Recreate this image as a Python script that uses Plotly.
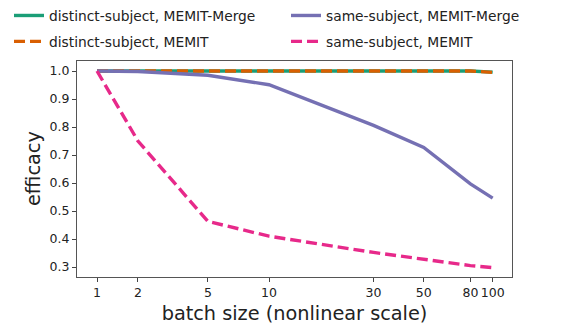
import plotly.graph_objects as go

batch = [1, 2, 5, 10, 30, 50, 80, 100]
tick_labels = ["1", "2", "5", "10", "30", "50", "80", "100"]

distinct_merge = [1.0, 1.0, 0.999, 0.999, 0.999, 1.0, 1.0, 0.996]
distinct_memit = [1.0, 1.0, 0.999, 0.999, 0.999, 1.0, 1.0, 0.995]
same_merge = [1.0, 0.998, 0.985, 0.951, 0.806, 0.727, 0.597, 0.546]
same_memit = [1.0, 0.75, 0.463, 0.41, 0.352, 0.329, 0.305, 0.298]

yticks = [0.3, 0.4, 0.5, 0.6, 0.7, 0.8, 0.9, 1.0]

# nonlinear scale: log(batch + 1)
xpos = [b + 1 for b in batch]

fig = go.Figure()
series = [
    ("distinct-subject, MEMIT-Merge", distinct_merge, "#1b9e77", "solid", "legend"),
    ("distinct-subject, MEMIT", distinct_memit, "#d95f02", "dash", "legend"),
    ("same-subject, MEMIT-Merge", same_merge, "#7570b3", "solid", "legend2"),
    ("same-subject, MEMIT", same_memit, "#e7298a", "dash", "legend2"),
]
for name, vals, color, dash, lg in series:
    fig.add_trace(go.Scatter(
        x=xpos, y=vals, mode="lines", name=name, legend=lg, legendgroup=name,
        line=dict(color=color, width=3.4, dash="11px,5px" if dash == "dash" else "solid"),
    ))

legend_common = dict(
    orientation="v", xref="container", yref="container",
    y=1.0, xanchor="left", yanchor="top",
    font=dict(size=13.8, family="DejaVu Sans", color="#222"),
    tracegroupgap=5, itemwidth=30,
    bgcolor="rgba(0,0,0,0)",
)

fig.update_layout(
    width=581, height=325,
    margin=dict(l=77, r=69, t=61, b=48, autoexpand=False),
    plot_bgcolor="white", paper_bgcolor="white",
    font=dict(family="DejaVu Sans", color="#222"),
    legend=dict(x=9 / 581, **legend_common),
    legend2=dict(x=286 / 581, **legend_common),
    showlegend=True,
    annotations=[dict(
        text="efficacy", textangle=-90, showarrow=False,
        xref="paper", yref="paper", x=-0.101, y=0.5,
        xanchor="center", yanchor="middle",
        font=dict(size=19.3, family="DejaVu Sans", color="#222"),
    )],
)
fig.update_xaxes(
    type="log",
    range=[0.2148, 2.0875],
    tickvals=xpos, ticktext=tick_labels,
    ticks="outside", ticklen=4, tickcolor="#444",
    tickfont=dict(size=12.5),
    showline=True, linecolor="#555", linewidth=1.2, mirror=True,
    showgrid=False, zeroline=False,
    title=dict(text="batch size (nonlinear scale)", font=dict(size=19.3)),
)
fig.update_yaxes(
    range=[0.2643, 1.0357],
    tickvals=yticks, ticktext=[f"{v:.1f}" for v in yticks],
    ticks="outside", ticklen=4, tickcolor="#444",
    tickfont=dict(size=12.5),
    showline=True, linecolor="#555", linewidth=1.2, mirror=True,
    showgrid=False, zeroline=False,
)

fig.write_html("out.html")
